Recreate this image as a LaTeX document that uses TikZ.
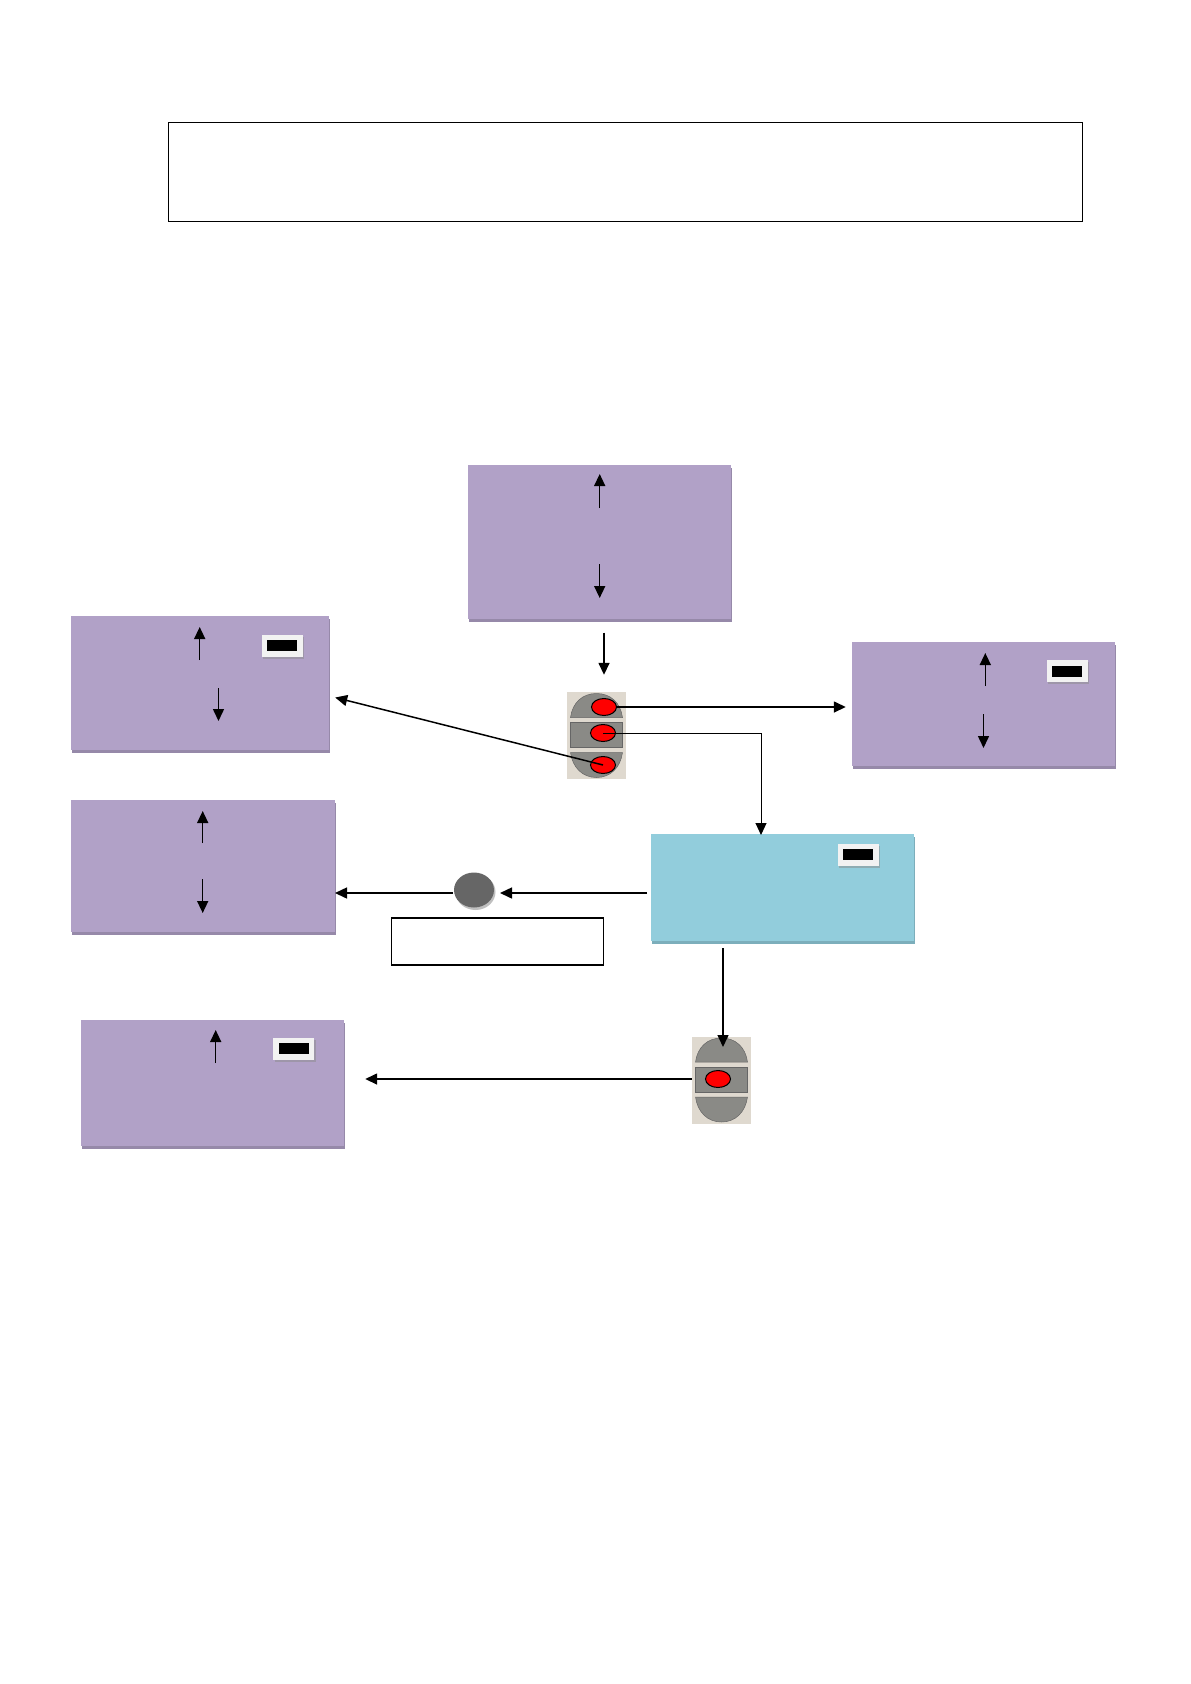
\documentclass[tikz,border=0pt]{standalone}
\usetikzlibrary{arrows.meta,shadows,shapes.geometric}

\definecolor{menupurple}{HTML}{B1A1C7}
\definecolor{menucyan}{HTML}{92CDDC}
\definecolor{padgray}{HTML}{8A8A86}
\definecolor{padback}{HTML}{DFD9CF}

\tikzset{
  flow/.style={draw,line width=1.5pt,-{Triangle[length=12pt,width=11pt]}},
  purplebox/.style={fill=menupurple,inner sep=0pt,
    drop shadow={shadow xshift=1pt,shadow yshift=-3pt,fill=menupurple!85!black,opacity=1}},
  cyanbox/.style={fill=menucyan,inner sep=0pt,
    drop shadow={shadow xshift=1pt,shadow yshift=-3pt,fill=menucyan!85!black,opacity=1}},
  framebox/.style={draw,fill=white,inner sep=0pt},
  softkey/.style={fill=white!95!black,inner sep=0pt,minimum width=41pt,minimum height=22pt,
    drop shadow={shadow xshift=1.5pt,shadow yshift=-2pt,fill=black!45,opacity=.5}},
  keyblack/.style={fill=black,inner sep=0pt,minimum width=30pt,minimum height=11pt},
  padshape/.style={fill=padgray,draw=black!60,line width=.5pt},
  padbase/.style={fill=padback,inner sep=0pt,minimum width=59pt,minimum height=87pt},
  redoval/.style={ellipse,draw,line width=1pt,fill=red,inner sep=0pt,minimum width=25pt,minimum height=17pt},
}

%three key pad, #1 = name of its back node
\newcommand{\padkeys}[1]{
  \begin{scope}[shift={(#1.center)}]
    \path[padshape] (-26,-18) .. controls (-24,-33) and (-14,-42) .. (0,-42)
      .. controls (14,-42) and (24,-33) .. (26,-18) -- cycle;
    \path[padshape] (-26,-13) rectangle (26,12);
    \path[padshape] (-26,17) .. controls (-24,32) and (-14,42) .. (0,42)
      .. controls (14,42) and (24,32) .. (26,17) -- cycle;
  \end{scope}
}

\begin{document}
\begin{tikzpicture}[x=1pt,y=-1pt]
  \useasboundingbox[fill=white] (0,0) rectangle (1191,1684);

  %title frame
  \node[framebox,line width=.8pt,minimum width=914pt,minimum height=99pt] (title) at (625,171.5) {};

  %menu screens
  \node[purplebox,minimum width=263pt,minimum height=154pt] (topmenu) at (599.5,541.5) {};
  \node[purplebox,minimum width=258pt,minimum height=134pt] (leftone) at (200,682.5) {};
  \node[purplebox,minimum width=263pt,minimum height=124pt] (rightmenu) at (983.5,703.5) {};
  \node[purplebox,minimum width=264pt,minimum height=132pt] (lefttwo) at (203,865.5) {};
  \node[purplebox,minimum width=263pt,minimum height=126pt] (leftthree) at (212.5,1082.5) {};
  \node[cyanbox,minimum width=263pt,minimum height=107pt] (setmenu) at (782.5,887.5) {};

  %soft keys
  \foreach \n/\x/\y in {keyone/282/645.5,keytwo/1067/671,keythree/293.5/1048.5,keyfour/858/854.5} {
    \node[softkey] (\n) at (\x,\y) {};
    \node[keyblack] (\n black) at (\n.center) {};
  }

  %key pads
  \node[padbase] (padone) at (596.5,735.5) {};
  \padkeys{padone}
  \node[padbase] (padtwo) at (721.5,1080) {};
  \padkeys{padtwo}
  \node[redoval] (presstop) at (604,707) {};
  \node[redoval] (pressmid) at (603,733) {};
  \node[redoval] (presslow) at (603,765) {};
  \node[redoval] (pressnext) at (718,1079) {};

  %round key and its note
  \node[ellipse,fill=black!25,inner sep=0pt,minimum width=40pt,minimum height=36pt] (roundshadow) at (475.5,892) {};
  \node[ellipse,fill=black!60,inner sep=0pt,minimum width=40pt,minimum height=35pt] (roundkey) at (474,890) {};
  \node[framebox,line width=1.2pt,minimum width=212pt,minimum height=47pt] (note) at (497.5,941.5) {};

  %free ends of the connectors
  \coordinate (setin) at (761,835);
  \coordinate (setout) at (647,893);
  \coordinate (roundin) at (500,893);
  \coordinate (roundout) at (453,893);
  \coordinate (leftin) at (335,893);
  \coordinate (setdown) at (723,948);
  \coordinate (padin) at (723,1047);

  %connectors between screens
  \draw[flow,shorten <=14pt,shorten >=17pt] (topmenu.south -| presstop) -- (padone.north -| presstop);
  \draw[flow,shorten >=6pt] (presstop.east) -- (rightmenu.west |- presstop);
  \draw[flow,line width=1pt] (pressmid.center) -| (setin);
  \draw[flow] (presslow.center) -- ([xshift=6pt,yshift=-15pt]leftone.east);
  \draw[flow] (setout) -- (roundin);
  \draw[flow] (roundout) -- (leftin);
  \draw[flow] (setdown) -- (padin);
  \draw[flow,shorten >=21pt] (padtwo.west |- pressnext) -- (leftthree.east |- pressnext);

  %scroll arrows inside the screens
  \foreach \n/\x/\ya/\yb in {a/599.7/508/474,b/599.7/564/598,c/199.7/660/627,d/218.5/688/721,e/985.3/686/653,f/983.5/714/748,g/202.7/843/811,h/202.7/879/913,i/215.7/1063/1030} {
    \coordinate (tail\n) at (\x,\ya);
    \coordinate (head\n) at (\x,\yb);
    \draw[flow] (tail\n) -- (head\n);
  }
\end{tikzpicture}
\end{document}
